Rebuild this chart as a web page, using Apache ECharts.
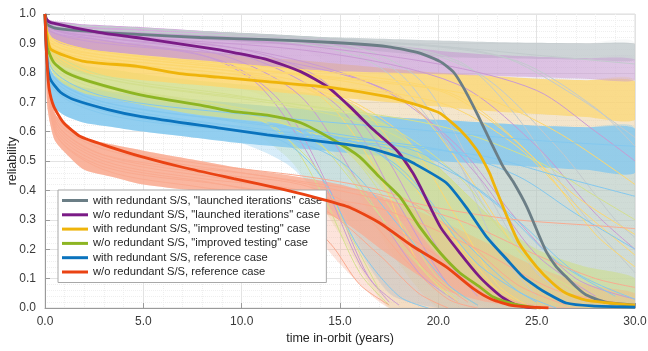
<!DOCTYPE html>
<html>
<head>
<meta charset="utf-8">
<script src="https://cdn.jsdelivr.net/npm/echarts@6/dist/echarts.min.js"></script>
<style>
  html, body { margin: 0; padding: 0; background: #ffffff; }
  #chart { width: 648px; height: 351px; }
</style>
</head>
<body>
<div id="chart"></div>
<script>
// ---- case names (legend order) ----
const caseNames = [
  'with redundant S/S, "launched iterations" case',
  'w/o redundant S/S, "launched iterations" case',
  'with redundant S/S, "improved testing" case',
  'w/o redundant S/S, "improved testing" case',
  'with redundant S/S, reference case',
  'w/o redundant S/S, reference case'
];

// ---- mean reliability curves [years, reliability] ----
const meanLaunchedWith = [[0,1],[0.1,0.965],[0.5,0.952],[3,0.937],[5,0.93],[7.9,0.92],[11.3,0.913],[14.65,0.903],[17.4,0.889],[18.7,0.873],[19.1,0.866],[20.1,0.838],[20.75,0.804],[21.25,0.753],[21.95,0.664],[22.7,0.56],[23.3,0.48],[23.8,0.43],[24.5,0.344],[25.15,0.242],[25.5,0.19],[26,0.14],[26.5,0.106],[27,0.072],[27.5,0.045],[28.5,0.02],[30,0.01]];
const meanLaunchedWithout = [[0,1],[0.1,0.98],[0.3,0.971],[2.8,0.937],[5.4,0.913],[8.8,0.879],[9.6,0.869],[11.3,0.845],[13,0.804],[14.35,0.753],[15.5,0.685],[16.7,0.606],[17.9,0.535],[18.7,0.46],[19.1,0.41],[20.1,0.276],[21.1,0.187],[22.1,0.106],[22.8,0.061],[23.3,0.034],[23.9,0.012],[24.5,0.003],[25,0]];
const meanTestingWith = [[0,1],[0.1,0.93],[0.3,0.88],[1.9,0.84],[4.7,0.822],[7,0.796],[8.8,0.785],[11.3,0.77],[14.65,0.749],[17.4,0.719],[18.7,0.695],[19.5,0.678],[20.1,0.662],[21.1,0.606],[21.95,0.538],[22.6,0.46],[22.8,0.426],[23.5,0.31],[24.1,0.221],[25,0.14],[25.8,0.085],[26.5,0.05],[27.5,0.027],[28.9,0.016],[30,0.01]];
const meanTestingWithout = [[0,1],[0.1,0.89],[0.45,0.835],[1.1,0.8],[2.3,0.77],[4.85,0.725],[8.3,0.685],[9.6,0.668],[11.3,0.656],[13,0.63],[14.65,0.572],[16,0.514],[17,0.446],[18.05,0.378],[19.05,0.276],[20.1,0.187],[21.1,0.119],[22.1,0.072],[22.8,0.037],[23.8,0.014],[24.8,0.003],[25.2,0]];
const meanReferenceWith = [[0,1],[0.05,0.9],[0.13,0.82],[0.28,0.777],[0.8,0.733],[1.45,0.709],[3.2,0.675],[4.9,0.651],[8.8,0.613],[11.3,0.589],[14.65,0.562],[16.4,0.545],[18.1,0.512],[18.7,0.494],[20.4,0.426],[21.4,0.344],[22.45,0.242],[23.5,0.164],[24.3,0.106],[25,0.072],[25.5,0.051],[26.5,0.017],[27.8,0.007],[30,0.003]];
const meanReferenceWithout = [[0,1],[0.05,0.9],[0.1,0.84],[0.2,0.75],[0.45,0.685],[0.95,0.63],[1.8,0.583],[3.2,0.55],[4.9,0.515],[7.1,0.477],[9.6,0.44],[12,0.405],[14.2,0.368],[15.5,0.342],[17,0.29],[18.7,0.21],[20.4,0.14],[21.8,0.065],[22.7,0.03],[23.8,0.008],[25.6,0]];

// ---- envelope of the sampled curves, per case, on a shared time grid ----
const tGrid = [0,0.1,0.25,0.5,1,2,3.5,5,7.5,10,12.5,15,17.5,20,22.5,25,27.5,30];

const coreTopLaunchedWith    = [1,0.975,0.965,0.96,0.955,0.95,0.945,0.94,0.935,0.93,0.925,0.92,0.915,0.91,0.905,0.902,0.9,0.898];
const coreBotLaunchedWith    = [1,0.96,0.95,0.945,0.94,0.935,0.93,0.925,0.915,0.905,0.895,0.885,0.87,0.855,0.85,0.847,0.845,0.843];
const envBotLaunchedWith     = [1,0.96,0.95,0.945,0.94,0.935,0.93,0.925,0.915,0.905,0.895,0.8,0.5,0.1,0,0,0,0];

const coreTopLaunchedWithout = [1,0.985,0.98,0.975,0.972,0.965,0.96,0.955,0.945,0.935,0.925,0.912,0.895,0.875,0.862,0.855,0.85,0.845];
const coreBotLaunchedWithout = [1,0.95,0.93,0.91,0.895,0.88,0.87,0.86,0.845,0.83,0.815,0.805,0.8,0.795,0.79,0.785,0.78,0.775];
const envBotLaunchedWithout  = [1,0.95,0.93,0.91,0.895,0.88,0.87,0.86,0.845,0.8,0.65,0.35,0.05,0,0,0,0,0];

const coreTopTestingWith     = [1,0.97,0.95,0.935,0.925,0.915,0.905,0.895,0.875,0.86,0.845,0.83,0.815,0.8,0.79,0.78,0.775,0.77];
const coreBotTestingWith     = [1,0.9,0.86,0.84,0.82,0.8,0.785,0.775,0.76,0.745,0.73,0.715,0.7,0.685,0.67,0.66,0.65,0.64];
const envBotTestingWith      = [1,0.9,0.86,0.84,0.82,0.8,0.785,0.775,0.76,0.745,0.68,0.5,0.2,0,0,0,0,0];

const coreTopTestingWithout  = [1,0.93,0.9,0.87,0.85,0.825,0.81,0.795,0.775,0.76,0.74,0.71,0.62,0.48,0.32,0.2,0.14,0.1];
const coreBotTestingWithout  = [1,0.86,0.82,0.79,0.76,0.73,0.71,0.69,0.66,0.64,0.62,0.55,0.38,0.18,0.05,0.01,0,0];
const envBotTestingWithout   = [1,0.86,0.82,0.79,0.76,0.73,0.71,0.69,0.66,0.62,0.5,0.25,0,0,0,0,0,0];

const coreTopReferenceWith   = [1,0.87,0.82,0.79,0.77,0.75,0.735,0.725,0.71,0.695,0.68,0.665,0.65,0.64,0.63,0.62,0.615,0.61];
const coreBotReferenceWith   = [1,0.76,0.71,0.68,0.655,0.63,0.615,0.6,0.58,0.56,0.545,0.53,0.515,0.5,0.49,0.48,0.47,0.46];
const envBotReferenceWith    = [1,0.76,0.71,0.68,0.655,0.63,0.615,0.6,0.58,0.56,0.48,0.3,0.05,0,0,0,0,0];

const coreTopReferenceWithout = [1,0.8,0.71,0.66,0.63,0.58,0.555,0.535,0.505,0.475,0.45,0.42,0.37,0.3,0.22,0.14,0.08,0.05];
const coreBotReferenceWithout = [1,0.7,0.63,0.57,0.53,0.47,0.445,0.42,0.4,0.38,0.36,0.3,0.18,0.07,0.02,0,0,0];
const envBotReferenceWithout  = [1,0.7,0.63,0.57,0.53,0.47,0.445,0.42,0.4,0.38,0.34,0.15,0,0,0,0,0,0];

// ---- individual sampled curves (thin lines) ----
const samplesLaunchedWith = [
  [[0,1],[0.3,0.96],[5,0.94],[14,0.9],[18,0.8],[21,0.5],[23,0.2],[25,0.04]],
  [[0,1],[0.3,0.96],[5,0.94],[15,0.91],[21,0.84],[24,0.65],[27,0.35],[30,0.12]],
  [[0,1],[0.3,0.97],[5,0.95],[16,0.91],[23,0.86],[27,0.72],[30,0.58]],
  [[0,1],[0.3,0.96],[5,0.93],[13,0.9],[17,0.82],[20,0.6],[23,0.28],[26,0.06]],
  [[0,1],[0.3,0.97],[5,0.95],[18,0.9],[24,0.84],[28,0.68],[30,0.55]],
  [[0,1],[0.3,0.96],[5,0.94],[15,0.9],[19,0.78],[22,0.45],[25,0.12],[27.5,0.02]],
  [[0,1],[0.3,0.97],[5,0.95],[17,0.9],[22,0.8],[26,0.55],[29,0.3],[30,0.24]],
  [[0,1],[0.3,0.96],[5,0.94],[20,0.89],[25,0.86],[30,0.83]]
];
const samplesLaunchedWithout = [
  [[0,1],[0.3,0.95],[3,0.91],[8,0.86],[11,0.75],[14,0.45],[16,0.15],[17.5,0.02]],
  [[0,1],[0.3,0.96],[3,0.93],[10,0.88],[14,0.78],[17,0.55],[20,0.2],[22,0.04]],
  [[0,1],[0.3,0.94],[3,0.9],[12,0.84],[18,0.72],[22,0.45],[25,0.18],[28,0.04]],
  [[0,1],[0.3,0.97],[3,0.94],[12,0.9],[20,0.83],[25,0.74],[28,0.6],[30,0.5]],
  [[0,1],[0.3,0.95],[3,0.92],[9,0.86],[13,0.72],[16,0.42],[19,0.12],[21,0.02]],
  [[0,1],[0.3,0.96],[3,0.93],[14,0.87],[21,0.76],[25,0.55],[28,0.32],[30,0.2]],
  [[0,1],[0.3,0.95],[3,0.92],[10,0.86],[15,0.68],[18,0.35],[20.5,0.08],[22,0.01]],
  [[0,1],[0.3,0.96],[3,0.93],[11,0.87],[17,0.75],[21,0.55],[24,0.3],[27,0.1],[30,0.03]],
  [[0,1],[0.3,0.94],[3,0.91],[9,0.84],[12,0.7],[14.5,0.4],[16.5,0.1],[18,0.01]]
];
const samplesTestingWith = [
  [[0,1],[0.3,0.9],[3,0.85],[10,0.8],[14,0.72],[17,0.45],[19,0.15],[21,0.02]],
  [[0,1],[0.3,0.92],[3,0.87],[12,0.8],[18,0.72],[21,0.5],[24,0.2],[26.5,0.04]],
  [[0,1],[0.3,0.88],[3,0.83],[12,0.77],[20,0.7],[24,0.55],[27,0.35],[30,0.18]],
  [[0,1],[0.3,0.9],[3,0.86],[15,0.78],[22,0.72],[26,0.6],[30,0.42]],
  [[0,1],[0.3,0.89],[3,0.84],[11,0.78],[16,0.68],[19,0.42],[22,0.12],[24,0.02]],
  [[0,1],[0.3,0.91],[3,0.86],[14,0.79],[20,0.74],[23,0.62],[27,0.38],[30,0.25]],
  [[0,1],[0.3,0.9],[3,0.85],[13,0.77],[18,0.6],[21,0.3],[23,0.08],[24.5,0.01]],
  [[0,1],[0.3,0.92],[3,0.87],[16,0.79],[21,0.72],[25,0.5],[28,0.25],[30,0.14]],
  [[0,1],[0.3,0.89],[3,0.84],[12,0.77],[16,0.65],[20,0.3],[23,0.06]]
];
const samplesTestingWithout = [
  [[0,1],[0.3,0.85],[3,0.76],[9,0.68],[12,0.6],[14,0.4],[16,0.12],[17.5,0.01]],
  [[0,1],[0.3,0.83],[3,0.74],[10,0.66],[15,0.55],[18,0.3],[20,0.1],[22,0.01]],
  [[0,1],[0.3,0.88],[3,0.79],[10,0.72],[17,0.63],[21,0.45],[24,0.2],[27,0.04]],
  [[0,1],[0.3,0.84],[3,0.75],[10,0.68],[13,0.62],[16,0.4],[19,0.15],[21,0.03]],
  [[0,1],[0.3,0.86],[3,0.78],[12,0.7],[20,0.62],[25,0.5],[28,0.38],[30,0.3]],
  [[0,1],[0.3,0.85],[3,0.76],[11,0.66],[15,0.5],[18,0.22],[20.5,0.04]],
  [[0,1],[0.3,0.87],[3,0.78],[13,0.68],[18,0.58],[22,0.35],[25,0.14],[28,0.03]],
  [[0,1],[0.3,0.84],[3,0.75],[10,0.67],[13.5,0.5],[15.5,0.25],[17,0.06]]
];
const samplesReferenceWith = [
  [[0,1],[0.3,0.78],[3,0.68],[8,0.62],[12,0.57],[14,0.45],[16,0.2],[18,0.04],[19.5,0]],
  [[0,1],[0.3,0.8],[3,0.7],[9,0.64],[15,0.58],[18,0.48],[21,0.25],[24,0.06],[26,0]],
  [[0,1],[0.3,0.76],[3,0.66],[10,0.6],[17,0.55],[21,0.45],[24,0.3],[27,0.12],[30,0.03]],
  [[0,1],[0.3,0.82],[3,0.72],[10,0.66],[20,0.6],[25,0.57],[30,0.55]],
  [[0,1],[0.3,0.77],[3,0.67],[10,0.6],[16,0.56],[19,0.4],[22,0.15],[25,0.02]],
  [[0,1],[0.3,0.79],[3,0.69],[12,0.6],[20,0.54],[24,0.45],[27,0.32],[30,0.2]],
  [[0,1],[0.3,0.78],[3,0.68],[11,0.6],[15,0.5],[18,0.28],[20.5,0.08],[22,0.01]],
  [[0,1],[0.3,0.8],[3,0.7],[13,0.61],[19,0.53],[23,0.35],[26,0.16],[29,0.04]],
  [[0,1],[0.3,0.77],[3,0.67],[12,0.59],[22,0.52],[26,0.45],[30,0.38]]
];
const samplesReferenceWithout = [
  [[0,1],[0.5,0.6],[3,0.47],[8,0.41],[12,0.37],[14.5,0.22],[16,0.08],[17.5,0.01]],
  [[0,1],[0.5,0.64],[3,0.52],[8,0.46],[13,0.42],[16,0.33],[18.5,0.15],[20.5,0.03],[22,0]],
  [[0,1],[0.5,0.66],[3,0.55],[8,0.49],[14,0.44],[18,0.38],[21,0.25],[24,0.08],[26.5,0.01]],
  [[0,1],[0.5,0.62],[3,0.5],[8,0.44],[13,0.4],[17,0.3],[19.5,0.12],[21.5,0.02]],
  [[0,1],[0.5,0.65],[3,0.54],[10,0.46],[16,0.4],[20,0.34],[24,0.3],[28,0.28],[30,0.27]],
  [[0,1],[0.5,0.6],[3,0.48],[9,0.42],[13,0.38],[17,0.34],[22,0.2],[26,0.06],[30,0.01]],
  [[0,1],[0.5,0.63],[3,0.51],[10,0.43],[15,0.36],[19,0.22],[22,0.08],[24,0.02]],
  [[0,1],[0.5,0.61],[3,0.49],[9,0.42],[14,0.34],[17,0.18],[19,0.05],[20.5,0]],
  [[0,1],[0.5,0.64],[3,0.52],[11,0.45],[17,0.37],[21,0.3],[25,0.18],[28,0.1],[30,0.07]]
];

// ---- axis ticks ----
const xTicks = [0, 5, 10, 15, 20, 25, 30];
const yTicks = [0, 0.1, 0.2, 0.3, 0.4, 0.5, 0.6, 0.7, 0.8, 0.9, 1.0];

// ---- styling per case (hazeAlpha: failing spread; coreFade: band alpha at 30 years) ----
const cases = [
  { name: caseNames[0], mean: meanLaunchedWith,    top: coreTopLaunchedWith,    bot: coreBotLaunchedWith,    env: envBotLaunchedWith,    samples: samplesLaunchedWith,    dark: '#6b7e86', light: [194,202,205], hazeAlpha: 0.12, coreFade: 0.78 },
  { name: caseNames[1], mean: meanLaunchedWithout, top: coreTopLaunchedWithout, bot: coreBotLaunchedWithout, env: envBotLaunchedWithout, samples: samplesLaunchedWithout, dark: '#7a1b86', light: [201,154,211], hazeAlpha: 0.14, coreFade: 0.45 },
  { name: caseNames[2], mean: meanTestingWith,     top: coreTopTestingWith,     bot: coreBotTestingWith,     env: envBotTestingWith,     samples: samplesTestingWith,     dark: '#efb40a', light: [252,215,112], hazeAlpha: 0.3,  coreFade: 0.7 },
  { name: caseNames[3], mean: meanTestingWithout,  top: coreTopTestingWithout,  bot: coreBotTestingWithout,  env: envBotTestingWithout,  samples: samplesTestingWithout,  dark: '#8db522', light: [211,223,142], hazeAlpha: 0.3,  coreFade: 0.5 },
  { name: caseNames[4], mean: meanReferenceWith,   top: coreTopReferenceWith,   bot: coreBotReferenceWith,   env: envBotReferenceWith,   samples: samplesReferenceWith,   dark: '#0a73bd', light: [132,200,238], hazeAlpha: 0.32, coreFade: 0.78 },
  { name: caseNames[5], mean: meanReferenceWithout,top: coreTopReferenceWithout,bot: coreBotReferenceWithout,env: envBotReferenceWithout,samples: samplesReferenceWithout,dark: '#ea4313', light: [249,170,144], hazeAlpha: 0.32, coreFade: 0.6 }
];

function rgba(c, a) { return 'rgba(' + c[0] + ',' + c[1] + ',' + c[2] + ',' + a + ')'; }

// filled region between two envelopes; alpha fades from left (a0) to right (a1)
function bandSeries(top, bot, color, a0, a1, z) {
  return {
    type: 'custom',
    coordinateSystem: 'cartesian2d',
    silent: true,
    clip: true,
    z: z,
    data: [0],
    renderItem: function (params, api) {
      const pts = [];
      for (let i = 0; i < tGrid.length; i++) pts.push(api.coord([tGrid[i], top[i]]));
      for (let i = tGrid.length - 1; i >= 0; i--) pts.push(api.coord([tGrid[i], bot[i]]));
      return {
        type: 'polygon',
        shape: { points: pts, smooth: 0.25 },
        style: {
          fill: new echarts.graphic.LinearGradient(0, 0, 1, 0, [
            { offset: 0, color: rgba(color, a0) },
            { offset: 1, color: rgba(color, a1) }
          ])
        }
      };
    }
  };
}

const series = [];
// spread of failing samples (faint)
cases.forEach(function (c) {
  series.push(bandSeries(c.top, c.env, c.light, c.hazeAlpha, c.hazeAlpha, 1));
});
// dense band of surviving samples; drawn bottom-up: red, blue, green, yellow, gray, purple
[5, 4, 3, 2, 0, 1].forEach(function (k) {
  const c = cases[k];
  series.push(bandSeries(c.top, c.bot, c.light, 0.85, c.coreFade, 2));
});
// thin sampled curves
cases.forEach(function (c) {
  c.samples.forEach(function (s) {
    series.push({
      type: 'line', data: s, silent: true, showSymbol: false, z: 3,
      smooth: 0.3,
      lineStyle: { color: rgba(c.light, 1), width: 1 }
    });
  });
});
// mean curves
cases.forEach(function (c) {
  series.push({
    name: c.name, type: 'line', data: c.mean, showSymbol: false, z: 5,
    smooth: 0.2,
    color: c.dark,
    lineStyle: { color: c.dark, width: 2.8 }
  });
});

const chart = echarts.init(document.getElementById('chart'), null, { renderer: 'canvas' });
chart.setOption({
  animation: false,
  backgroundColor: '#ffffff',
  grid: { left: 45, right: 13, top: 14, bottom: 43, outerBoundsMode: 'none', containLabel: false,
          show: true, borderColor: '#dcdcdc', borderWidth: 1 },
  xAxis: {
    type: 'value', min: xTicks[0], max: xTicks[xTicks.length - 1], interval: 5,
    name: 'time in-orbit (years)', nameLocation: 'middle', nameGap: 24, nameMoveOverlap: false,
    nameTextStyle: { fontFamily: 'Liberation Sans, Arial', fontSize: 12.5, color: '#262626' },
    axisLine: { lineStyle: { color: '#9a9a9a', width: 1 } },
    axisTick: { inside: true, length: 5, lineStyle: { color: '#9a9a9a' } },
    minorTick: { show: false, splitNumber: 5 },
    axisLabel: { margin: 8, fontFamily: 'Liberation Sans, Arial', fontSize: 12, color: '#3a3a3a',
      formatter: function (v) { return v.toFixed(1); } },
    splitLine: { show: true, lineStyle: { color: '#e3e3e3', width: 1 } },
    minorSplitLine: { show: true, lineStyle: { color: '#efefef', width: 1, type: 'dotted' } }
  },
  yAxis: {
    type: 'value', min: yTicks[0], max: yTicks[yTicks.length - 1], interval: 0.1,
    name: 'reliability', nameLocation: 'middle', nameGap: 26, nameRotate: 90, nameMoveOverlap: false,
    nameTextStyle: { fontFamily: 'Liberation Sans, Arial', fontSize: 12.5, color: '#262626' },
    axisLine: { show: true, lineStyle: { color: '#9a9a9a', width: 1 } },
    axisTick: { show: true, inside: true, length: 5, lineStyle: { color: '#9a9a9a' } },
    minorTick: { show: false, splitNumber: 5 },
    axisLabel: { margin: 9, fontFamily: 'Liberation Sans, Arial', fontSize: 12, color: '#3a3a3a',
      formatter: function (v) { return v.toFixed(1); } },
    splitLine: { show: true, lineStyle: { color: '#e3e3e3', width: 1 } },
    minorSplitLine: { show: true, lineStyle: { color: '#efefef', width: 1, type: 'dotted' } }
  },
  legend: {
    data: caseNames,
    orient: 'vertical',
    left: 58, top: 190,
    icon: 'rect', itemWidth: 26, itemHeight: 3, itemGap: 1.3,
    padding: [4, 4, 4, 4],
    backgroundColor: '#ffffff',
    borderColor: '#a8a8a8', borderWidth: 1,
    textStyle: { fontFamily: 'Liberation Sans, Arial', fontSize: 11.2, color: '#262626', lineHeight: 13 },
    selectedMode: false
  },
  series: series
});
</script>
</body>
</html>
